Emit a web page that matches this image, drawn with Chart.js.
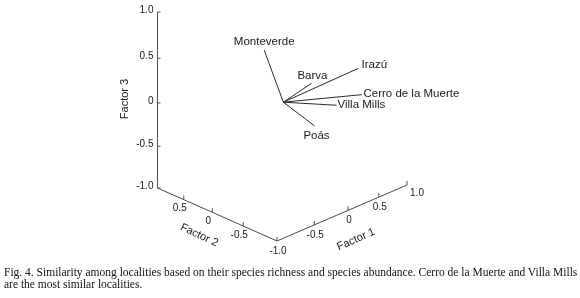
<!DOCTYPE html>
<html>
<head>
<meta charset="utf-8">
<script src="https://cdn.jsdelivr.net/npm/chart.js@4/dist/chart.umd.min.js"></script>
<style>
html,body{margin:0;padding:0;background:#fff;}
#wrap{position:relative;width:580px;height:298px;overflow:hidden;background:#fff;}
#c{position:absolute;left:0;top:0;}
#cap{position:absolute;left:4px;top:267px;width:576px;font-family:"Liberation Serif","Times New Roman",serif;font-size:11.5px;line-height:11.5px;color:#111;white-space:nowrap;}
</style>
</head>
<body>
<div id="wrap">
<canvas id="c" width="580" height="298"></canvas>
<div id="cap">Fig. 4. Similarity among localities based on their species richness and species abundance. Cerro de la Muerte and Villa Mills<br>are the most similar localities.</div>
</div>
<script>
// ---- data (factor loadings) ----
const localities = ['Monteverde', 'Barva', 'Irazú', 'Cerro de la Muerte', 'Villa Mills', 'Poás'];
const factor1 = [-0.20, 0.35, 0.78, 0.84, 0.51, 0.35];
const factor2 = [0.10, -0.10, -0.45, -0.45, -0.35, -0.15];
const factor3 = [0.60, 0.17, 0.33, 0.01, -0.07, -0.32];
const factor1Ticks = [-1.0, -0.5, 0, 0.5, 1.0];
const factor2Ticks = [1.0, 0.5, 0, -0.5, -1.0];
const factor3Ticks = [1.0, 0.5, 0, -0.5, -1.0];
const axisTitles = ['Factor 1', 'Factor 2', 'Factor 3'];

// ---- styling / layout (not data) ----
const AXIS_COLOR = '#4a4a4a';
const VEC_COLOR = '#2a2a2a';
const TEXT_COLOR = '#1a1a1a';
const FONT = '"Liberation Sans", Arial, sans-serif';
// perspective projection of the factor cube onto the view plane
const P = {u0: 292.9, ua: 92.2, ub: -39.4, w0f: 1.0337, wa: 0.0881, wb: 0.0788, wc: -0.0337,
           v0: 102.2, va: -7.97, vb: -8.15, vc: -90.56};
function proj(a, b, c) {
  const wf = P.w0f + P.wa * a + P.wb * b;
  const w = 1 + P.wa * a + P.wb * b + P.wc * c;
  return {x: (P.u0 + P.ua * a + P.ub * b) / wf, y: (P.v0 + P.va * a + P.vb * b + P.vc * c) / w};
}
const labelPlacement = {
  'Monteverde':         {align: 'center', dx: 0,   dy: -8},
  'Barva':              {align: 'center', dx: 1,   dy: -8},
  'Irazú':              {align: 'left',   dx: 3,   dy: -3},
  'Cerro de la Muerte': {align: 'left',   dx: 1.5, dy: -1},
  'Villa Mills':        {align: 'left',   dx: 1,   dy: 0},
  'Poás':               {align: 'center', dx: 2,   dy: 10}
};
const tickLabel = v => v === 0 ? '0' : v.toFixed(1);

// ---- datasets ----
const datasets = [];
function seg(p, q, color) {
  datasets.push({data: [p, q], showLine: true, borderColor: color, borderWidth: 1,
                 pointRadius: 0, fill: false, tension: 0});
}
// axes
seg(proj(-1, -1, -1), proj(1, -1, -1), AXIS_COLOR);   // factor 1
seg(proj(-1, 1, -1), proj(-1, -1, -1), AXIS_COLOR);   // factor 2
seg(proj(-1, 1, -1), proj(-1, 1, 1), AXIS_COLOR);     // factor 3
// tick marks
factor1Ticks.forEach(v => { const p = proj(v, -1, -1); seg(p, {x: p.x, y: p.y - 4}, AXIS_COLOR); });
factor2Ticks.filter(v => Math.abs(v) < 1).forEach(v => { const p = proj(-1, v, -1); seg(p, {x: p.x, y: p.y - 4}, AXIS_COLOR); });
factor3Ticks.forEach(v => { const p = proj(-1, 1, v); seg(p, {x: p.x + 3, y: p.y}, AXIS_COLOR); });
// locality vectors
const origin = proj(0, 0, 0);
localities.forEach((n, i) => seg(origin, proj(factor1[i], factor2[i], factor3[i]), VEC_COLOR));

// ---- text plugin ----
const textPlugin = {
  id: 'texts',
  afterDatasetsDraw(chart) {
    const ctx = chart.ctx, sx = chart.scales.x, sy = chart.scales.y;
    const px = p => ({x: sx.getPixelForValue(p.x), y: sy.getPixelForValue(p.y)});
    ctx.save();
    ctx.fillStyle = TEXT_COLOR;
    ctx.textBaseline = 'middle';
    // locality labels
    ctx.font = '11.5px ' + FONT;
    localities.forEach((n, i) => {
      const e = px(proj(factor1[i], factor2[i], factor3[i]));
      const s = labelPlacement[n];
      ctx.textAlign = s.align;
      ctx.fillText(n, e.x + s.dx, e.y + s.dy);
    });
    // tick labels
    ctx.font = '10px ' + FONT;
    ctx.textAlign = 'center';
    factor1Ticks.forEach(v => {
      const p = px(proj(v, -1, -1));
      if (v === 1) ctx.fillText(tickLabel(v), p.x + 10, p.y + 8);
      else ctx.fillText(tickLabel(v), p.x + 1, p.y + 10);
    });
    factor2Ticks.filter(v => Math.abs(v) < 1).forEach(v => {
      const p = px(proj(-1, v, -1));
      ctx.fillText(tickLabel(v), p.x - 4, p.y + 9);
    });
    ctx.textAlign = 'right';
    factor3Ticks.forEach(v => {
      const p = px(proj(-1, 1, v));
      ctx.fillText(tickLabel(v), p.x - 4, p.y - 2);
    });
    // axis titles
    ctx.font = '11px ' + FONT;
    ctx.textAlign = 'center';
    const t1 = px(proj(0, -1, -1));
    ctx.save(); ctx.translate(t1.x + 8, t1.y + 29); ctx.rotate(-24 * Math.PI / 180);
    ctx.fillText(axisTitles[0], 0, 0); ctx.restore();
    const t2 = px(proj(-1, 0, -1));
    ctx.save(); ctx.translate(t2.x - 13, t2.y + 23); ctx.rotate(25 * Math.PI / 180);
    ctx.fillText(axisTitles[1], 0, 0); ctx.restore();
    const t3 = px(proj(-1, 1, 0));
    ctx.save(); ctx.translate(t3.x - 32.5, t3.y - 4); ctx.rotate(-Math.PI / 2);
    ctx.fillText(axisTitles[2], 0, 0); ctx.restore();
    ctx.restore();
  }
};

new Chart(document.getElementById('c'), {
  type: 'scatter',
  data: {datasets},
  options: {
    responsive: false,
    animation: false,
    layout: {padding: 0},
    plugins: {legend: {display: false}, tooltip: {enabled: false}},
    scales: {
      x: {type: 'linear', min: 0, max: 580, display: false},
      y: {type: 'linear', min: 0, max: 298, reverse: true, display: false}
    }
  },
  plugins: [textPlugin]
});
</script>
</body>
</html>
